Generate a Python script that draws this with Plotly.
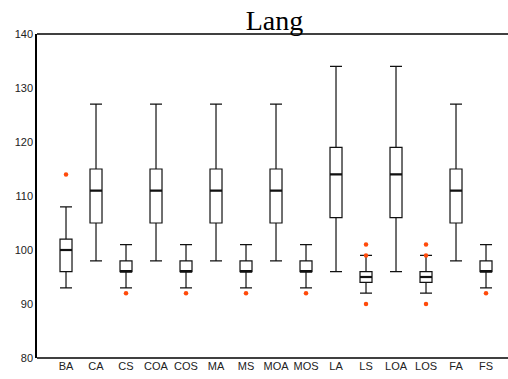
import plotly.graph_objects as go

# Box-plot summary statistics for each group
categories = ["BA", "CA", "CS", "COA", "COS", "MA", "MS", "MOA", "MOS",
              "LA", "LS", "LOA", "LOS", "FA", "FS"]
lower_whisker = [93, 98, 93, 98, 93, 98, 93, 98, 93, 96, 92, 96, 92, 98, 93]
q1_values     = [96, 105, 96, 105, 96, 105, 96, 105, 96, 106, 94, 106, 94, 105, 96]
medians       = [100, 111, 96, 111, 96, 111, 96, 111, 96, 114, 95, 114, 95, 111, 96]
q3_values     = [102, 115, 98, 115, 98, 115, 98, 115, 98, 119, 96, 119, 96, 115, 98]
upper_whisker = [108, 127, 101, 127, 101, 127, 101, 127, 101, 134, 99, 134, 99, 127, 101]

# Outliers: (group, value)
outlier_groups = ["BA", "CS", "COS", "MS", "MOS", "LS", "LS", "LS", "LOS", "LOS", "LOS", "FS"]
outlier_values = [114, 92, 92, 92, 92, 101, 99, 90, 101, 99, 90, 92]

y_ticks = [80, 90, 100, 110, 120, 130, 140]

positions = list(range(len(categories)))
box_width = 0.4
line_color = "#111111"
point_color = "#ff4a0a"

W, H = 508, 379
ML, MR, MT, MB = 37, 10, 34, 21
plot_w = W - ML - MR
# frame lines run past the plot area to the right edge of the figure
frame_x1 = 1 + MR / plot_w

fig = go.Figure()

fig.add_trace(go.Box(
    x=positions,
    q1=q1_values,
    median=medians,
    q3=q3_values,
    lowerfence=lower_whisker,
    upperfence=upper_whisker,
    width=box_width,
    whiskerwidth=1,
    boxpoints=False,
    fillcolor="white",
    line=dict(color=line_color, width=1.2),
    hoverinfo="skip",
    showlegend=False,
))

# Heavier median strokes drawn over each box
mx, my = [], []
for p, m in zip(positions, medians):
    mx += [p - box_width / 2, p + box_width / 2, None]
    my += [m, m, None]
fig.add_trace(go.Scatter(
    x=mx, y=my, mode="lines",
    line=dict(color=line_color, width=2.2),
    hoverinfo="skip", showlegend=False,
))

pos_of = {c: i for i, c in enumerate(categories)}
fig.add_trace(go.Scatter(
    x=[pos_of[g] for g in outlier_groups],
    y=outlier_values,
    mode="markers",
    marker=dict(color=point_color, size=4.5),
    hoverinfo="skip", showlegend=False,
))

frame = dict(type="line", xref="paper", yref="paper", x0=0, x1=frame_x1,
             line=dict(color="black", width=1.5))

fig.update_layout(
    width=W, height=H,
    margin=dict(l=ML, r=MR, t=MT, b=MB, autoexpand=False),
    paper_bgcolor="white",
    plot_bgcolor="white",
    title=dict(
        text="Lang",
        font=dict(family="Liberation Serif, Times New Roman, serif", size=28, color="black"),
        xref="container", x=274.5 / W, xanchor="center",
        yref="container", y=1 - 20 / H, yanchor="middle",
    ),
    font=dict(family="Liberation Sans, Arial, sans-serif", size=11, color="#222222"),
    shapes=[dict(frame, y0=1, y1=1), dict(frame, y0=0, y1=0)],
)

x_start = -0.967
fig.update_xaxes(
    range=[x_start, x_start + plot_w / 30],
    tickvals=positions, ticktext=categories,
    showgrid=False, zeroline=False, automargin=False,
    showline=False,
    ticks="", ticklen=0,
    tickfont=dict(size=11, color="#222222"),
)
fig.update_yaxes(
    range=[80, 140],
    tickvals=y_ticks,
    showgrid=False, zeroline=False, automargin=False,
    showline=True, linecolor="black", linewidth=1.5, mirror=False,
    ticks="", ticklen=0,
    tickfont=dict(size=11, color="#222222"),
)

fig.write_html("out.html", config={"displayModeBar": False})
